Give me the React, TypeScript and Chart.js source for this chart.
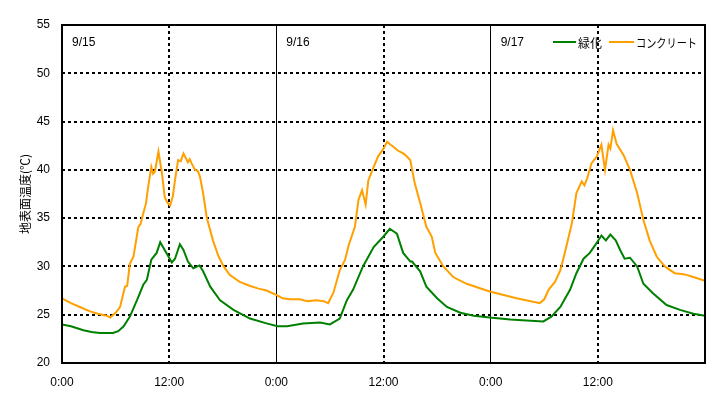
import React, { useEffect, useRef } from 'react';
import { Chart, registerables } from 'chart.js';

Chart.register(...registerables);

// ---- data (hours since 9/15 0:00, surface temperature °C) ----
const greenHours = [
  0, 1, 2.4, 3.3, 4.25, 5.7, 6.3, 6.9, 7.6, 8.4, 9.1, 9.5, 10.0, 10.6, 11.0, 11.5, 12.0, 12.3, 12.65,
  13.2, 13.6, 14.1, 14.7, 15.4, 15.8, 16.6, 17.7, 19.2, 21.05, 22.9, 24.15, 25.2, 27.0, 28.9, 30.0,
  31.1, 31.9, 32.6, 33.7, 34.9, 36.0, 36.7, 37.5, 38.2, 39.0, 39.2, 40.1, 40.8, 42.0, 43.1, 44.6,
  46.1, 47.9, 50.2, 52.0, 53.9, 54.8, 55.8, 56.9, 57.6, 58.4, 59.1, 59.7, 60.4, 60.9, 61.4, 62.0,
  62.5, 63.0, 63.6, 64.4, 65.1, 66.2, 67.7, 69.2, 70.7, 72,
];
const greenTemps = [
  24.0, 23.8, 23.4, 23.2, 23.1, 23.1, 23.3, 23.8, 24.8, 26.5, 28.1, 28.6, 30.7, 31.4, 32.5, 31.7, 30.9, 30.4, 30.8,
  32.3, 31.7, 30.5, 29.8, 30.1, 29.5, 27.9, 26.5, 25.5, 24.6, 24.1, 23.8, 23.8, 24.1, 24.2, 24.0,
  24.6, 26.5, 27.6, 30.0, 32.0, 33.1, 33.9, 33.4, 31.4, 30.5, 30.5, 29.5, 27.9, 26.7, 25.8, 25.2,
  24.9, 24.7, 24.5, 24.4, 24.3, 24.8, 25.8, 27.6, 29.3, 30.8, 31.4, 32.2, 33.2, 32.7, 33.3, 32.7,
  31.7, 30.8, 30.9, 30.0, 28.2, 27.2, 26.0, 25.5, 25.1, 24.9,
];

const concreteHours = [
  0, 1, 2, 3, 4, 5, 5.4, 6.0, 6.5, 7.05, 7.3, 7.6, 8.0, 8.55, 8.8, 9.1, 9.4, 9.66, 10.0, 10.2, 10.4,
  10.8, 11.2, 11.5, 11.8, 12.1, 12.4, 12.65, 13.0, 13.3, 13.6, 14.1, 14.3, 14.5, 14.9, 15.2, 15.45,
  15.8, 16.2, 16.9, 17.5, 18.1, 18.8, 19.9, 21.0, 22.0, 22.9, 24.1, 24.7, 25.5, 26.6, 27.5, 28.5,
  29.3, 29.8, 30.4, 31.1, 31.7, 32.1, 32.8, 33.2, 33.6, 34.0, 34.3, 34.9, 35.4, 36.0, 36.4, 36.8,
  37.1, 37.6, 38.2, 38.6, 39.0, 39.5, 40.1, 40.8, 41.4, 41.8, 42.7, 43.8, 45.3, 47.9, 50.9, 53.5,
  54.0, 54.5, 55.2, 55.8, 56.3, 57.1, 57.6, 58.2, 58.5, 58.8, 59.3, 59.9, 60.4, 60.8, 61.2, 61.4,
  61.7, 62.1, 62.9, 63.6, 64.4, 65.1, 65.8, 66.6, 67.5, 68.6, 69.6, 70.7, 72,
];
const concreteTemps = [
  26.7, 26.2, 25.8, 25.4, 25.1, 24.9, 24.7, 25.2, 25.8, 27.9, 28.0, 30.3, 31.0, 34.1, 34.4, 35.5, 36.5, 38.3, 40.3, 39.6, 39.8,
  41.9, 39.6, 37.2, 36.6, 36.3, 37.2, 38.9, 41.0, 40.9, 41.7, 40.8, 41.1, 40.7, 40.0, 39.9, 39.3,
  37.6, 35.1, 32.7, 31.1, 30.0, 29.1, 28.4, 28.0, 27.7, 27.5, 27.0, 26.7, 26.6, 26.6, 26.4, 26.5,
  26.4, 26.2, 27.3, 29.6, 30.7, 32.2, 34.1, 36.9, 37.9, 36.4, 38.9, 40.3, 41.4, 42.2, 42.9, 42.6,
  42.4, 42.0, 41.7, 41.4, 41.0, 38.6, 36.6, 34.1, 33.1, 31.4, 30.0, 28.9, 28.2, 27.4, 26.7, 26.2,
  26.6, 27.6, 28.4, 29.6, 31.4, 34.5, 37.6, 38.8, 38.4, 39.1, 40.7, 41.4, 42.6, 40.0, 42.6, 42.2,
  44.1, 42.7, 41.5, 40.0, 37.6, 34.8, 32.7, 31.0, 30.0, 29.3, 29.2, 28.9, 28.5,
];

const seriesNames = ['緑化', 'コンクリート'];
const seriesColors = ['rgb(0,128,0)', 'rgb(255,160,0)'];
const dayLabels = ['9/15', '9/16', '9/17'];
const midnightLabel = '0:00';
const noonLabel = '12:00';
const yTitle = '地表面温度(℃)';
const yMin = 20;
const yMax = 55;
const hoursTotal = 72;

const overlayPlugin = {
  id: 'overlay',
  afterDatasetsDraw(chart: any) {
    const { ctx, chartArea } = chart;
    const xs = chart.scales.x;
    ctx.save();
    // frame
    ctx.strokeStyle = '#000';
    ctx.lineWidth = 2;
    ctx.setLineDash([]);
    ctx.strokeRect(chartArea.left, chartArea.top, chartArea.right - chartArea.left, chartArea.bottom - chartArea.top);
    // day labels
    ctx.fillStyle = '#000';
    ctx.font = '12px "Liberation Sans", Arial, sans-serif';
    ctx.textBaseline = 'middle';
    ctx.textAlign = 'left';
    dayLabels.forEach((d, i) => {
      ctx.fillText(d, xs.getPixelForValue(i * 24) + 10, chartArea.top + 18);
    });
    // legend
    const ly = chartArea.top + 17;
    const r = chartArea.right;
    const items = [
      { x0: r - 152, x1: r - 129, tx: r - 127, tw: 24 },
      { x0: r - 96, x1: r - 71, tx: r - 69, tw: 61 },
    ];
    ctx.font = '12px "Noto Sans CJK JP", sans-serif';
    items.forEach((it, i) => {
      ctx.strokeStyle = seriesColors[i];
      ctx.lineWidth = 2;
      ctx.beginPath();
      ctx.moveTo(it.x0, ly);
      ctx.lineTo(it.x1, ly);
      ctx.stroke();
      ctx.fillStyle = '#000';
      ctx.fillText(seriesNames[i], it.tx, ly + 1, it.tw);
    });
    ctx.restore();
  },
};

export default function App() {
  const ref = useRef<HTMLCanvasElement | null>(null);
  useEffect(() => {
    if (!ref.current) return;
    const chart = new Chart(ref.current, {
      type: 'line',
      data: {
        datasets: [
          {
            label: seriesNames[0],
            data: greenHours.map((h, i) => ({ x: h, y: greenTemps[i] })),
            borderColor: seriesColors[0],
            backgroundColor: seriesColors[0],
            borderWidth: 2,
            pointRadius: 0,
            tension: 0,
          },
          {
            label: seriesNames[1],
            data: concreteHours.map((h, i) => ({ x: h, y: concreteTemps[i] })),
            borderColor: seriesColors[1],
            backgroundColor: seriesColors[1],
            borderWidth: 2,
            pointRadius: 0,
            tension: 0,
          },
        ],
      },
      options: {
        animation: false,
        responsive: false,
        devicePixelRatio: 1,
        layout: { padding: { left: 0, top: 25, right: 16, bottom: 0 } },
        plugins: { legend: { display: false }, tooltip: { enabled: false } },
        scales: {
          x: {
            type: 'linear',
            min: 0,
            max: hoursTotal,
            afterFit: (s: any) => { s.height = 34; },
            ticks: {
              stepSize: 12,
              autoSkip: false,
              maxRotation: 0,
              padding: 12,
              color: '#000',
              font: { family: '"Liberation Sans", Arial, sans-serif', size: 12 },
              callback: (v: any) => (v >= hoursTotal ? null : v % 24 === 0 ? midnightLabel : noonLabel),
            },
            grid: {
              drawTicks: false,
              color: '#000',
              lineWidth: (c: any) => (c.tick && c.tick.value % 24 === 0 ? 1 : 2),
            },
            border: {
              display: false,
              dash: (c: any) => (c.tick && c.tick.value % 24 !== 0 ? [3, 3] : []),
            },
          },
          y: {
            min: yMin,
            max: yMax,
            afterFit: (s: any) => { s.width = 62; },
            ticks: {
              stepSize: 5,
              padding: 12,
              color: '#000',
              font: { family: '"Liberation Sans", Arial, sans-serif', size: 12 },
            },
            grid: { drawTicks: false, color: '#000', lineWidth: 2 },
            border: { display: false, dash: [3, 3] },
            title: {
              display: true,
              text: yTitle,
              color: '#000',
              font: { family: '"Noto Sans CJK JP", sans-serif', size: 12 },
              padding: { top: 18, bottom: 0 },
            },
          },
        },
      },
      plugins: [overlayPlugin],
    });
    return () => chart.destroy();
  }, []);
  return (
    <div style={{ position: 'absolute', left: 0, top: 0, width: 721, height: 397, background: '#fff' }}>
      <canvas ref={ref} width={721} height={397} />
    </div>
  );
}
